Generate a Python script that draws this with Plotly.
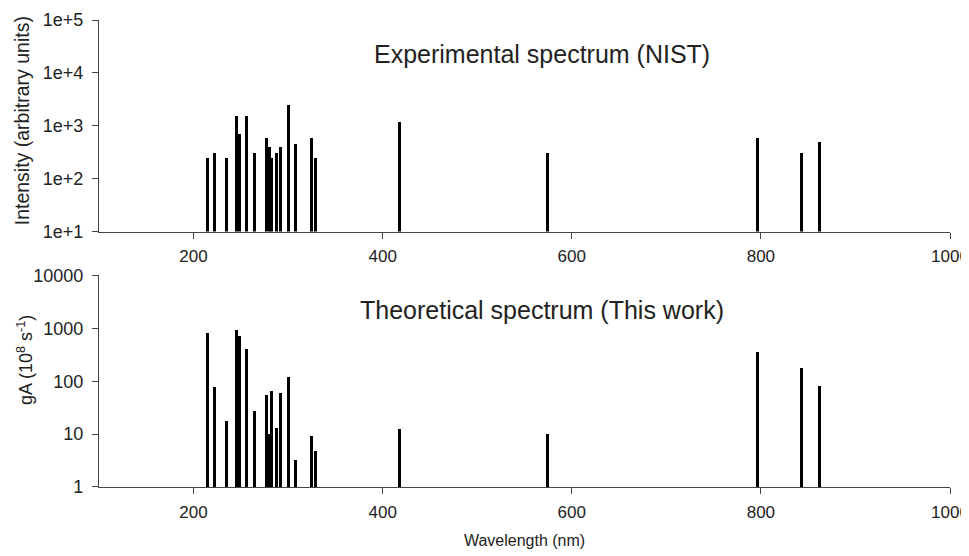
#! /usr/bin/env python3
# -*- coding: utf-8 -*-

""" Experimental vs theoretical line spectrum, two stacked log panels. """
import plotly.graph_objs as go
from plotly.subplots import make_subplots

# line positions (nm)
wavelength = [214.3, 222.4, 234.8, 245.4, 248.5, 256.3, 264.7, 276.7, 280.3, 282.7, 287.3,
              292.2, 300.7, 307.8, 324.3, 328.9, 417.4, 574.4, 796.6, 843.1, 861.7]
# NIST intensities (arbitrary units)
intensity = [250, 300, 250, 1500, 700, 1500, 300, 600, 400, 250, 300,
             400, 2500, 450, 600, 250, 1200, 300, 600, 300, 500]
# computed gA (10^8 s^-1)
ga = [800, 75, 17, 900, 700, 400, 27, 55, 9.8, 65, 13,
      58, 120, 3.2, 9, 4.7, 12.5, 10, 350, 175, 80]

top_ticks = [10, 100, 1000, 10000, 100000]
top_labels = ['1e+1', '1e+2', '1e+3', '1e+4', '1e+5']
bot_ticks = [1, 10, 100, 1000, 10000]
bot_labels = ['1', '10', '100', '1000', '10000']

FONT = 'Liberation Sans, Arial, sans-serif'
AXIS_COLOR = '#444444'
TEXT_COLOR = '#222222'

fig = make_subplots(rows=2, cols=1, vertical_spacing=0.094)

fig.add_trace(go.Bar(x=wavelength, y=intensity, width=3.2,
                     marker=dict(color='black', line=dict(width=0))), row=1, col=1)
fig.add_trace(go.Bar(x=wavelength, y=ga, width=3.2,
                     marker=dict(color='black', line=dict(width=0))), row=2, col=1)

xaxis_style = dict(
    range=[100, 1000], tick0=0, dtick=200, ticks='outside', ticklen=6,
    tickcolor=AXIS_COLOR, showline=True, linecolor=AXIS_COLOR, linewidth=1.3,
    showgrid=False, zeroline=False, automargin=False, ticklabelstandoff=3,
    tickfont=dict(size=17, color=TEXT_COLOR),
)
fig.update_xaxes(**xaxis_style)
fig.update_xaxes(title=dict(text='Wavelength (nm)', font=dict(size=16, color=TEXT_COLOR), standoff=14),
                 row=2, col=1)

yaxis_style = dict(
    type='log', ticks='outside', ticklen=6, tickcolor=AXIS_COLOR, showline=True,
    linecolor=AXIS_COLOR, linewidth=1.3, showgrid=False, zeroline=False, automargin=False,
    ticklabelstandoff=5, tickfont=dict(size=18, color=TEXT_COLOR),
)
fig.update_yaxes(**yaxis_style)
fig.update_yaxes(range=[1, 5], tickvals=top_ticks, ticktext=top_labels, row=1, col=1)
fig.update_yaxes(range=[0, 4], tickvals=bot_ticks, ticktext=bot_labels, row=2, col=1)

# y titles placed by hand so they sit as close to the tick labels as in the original
fig.add_annotation(text='Intensity (arbitrary units)', xref='paper', yref='y domain',
                   x=-0.0905, y=0.526, textangle=-90, xanchor='center', yanchor='middle',
                   showarrow=False, font=dict(size=19.5, color=TEXT_COLOR))
fig.add_annotation(text='gA (10<sup>8</sup> s<sup>-1</sup>)', xref='paper', yref='y2 domain',
                   x=-0.087, y=0.60, textangle=-90, xanchor='center', yanchor='middle',
                   showarrow=False, font=dict(size=18, color=TEXT_COLOR))

fig.add_annotation(text='Experimental spectrum (NIST)', xref='x domain', yref='y domain',
                   x=0.521, y=0.84, xanchor='center', yanchor='middle', showarrow=False,
                   font=dict(size=25, color=TEXT_COLOR))
fig.add_annotation(text='Theoretical spectrum (This work)', xref='x2 domain', yref='y2 domain',
                   x=0.521, y=0.835, xanchor='center', yanchor='middle', showarrow=False,
                   font=dict(size=25, color=TEXT_COLOR))

# the page body adds an 8px margin, so the figure is sized to fit what is left
fig.update_layout(
    width=961, height=548,
    margin=dict(l=91, r=19, t=12, b=69),
    paper_bgcolor='white', plot_bgcolor='white',
    showlegend=False, bargap=0,
    font=dict(family=FONT),
)

fig.write_html("out.html")
